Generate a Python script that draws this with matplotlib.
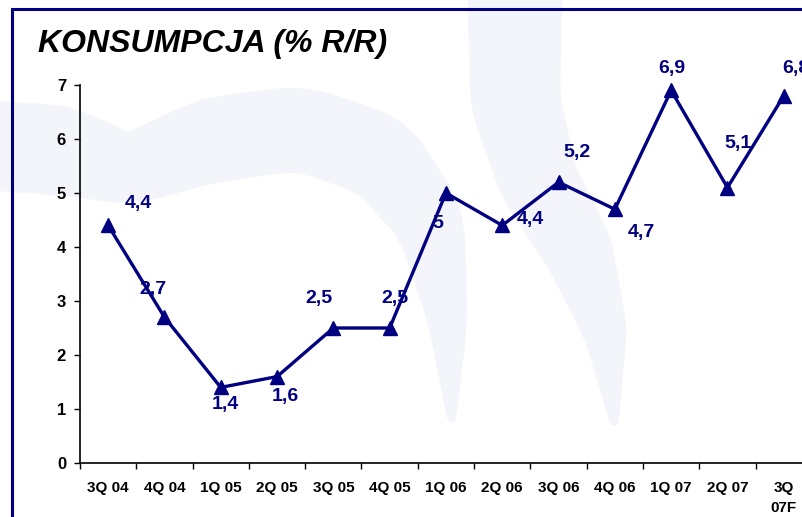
import matplotlib
matplotlib.use("Agg")
import matplotlib.pyplot as plt
import numpy as np
from matplotlib.patches import Polygon

quarters = ["3Q 04", "4Q 04", "1Q 05", "2Q 05", "3Q 05", "4Q 05", "1Q 06",
            "2Q 06", "3Q 06", "4Q 06", "1Q 07", "2Q 07", "3Q\n07F"]
values = [4.4, 2.7, 1.4, 1.6, 2.5, 2.5, 5.0, 4.4, 5.2, 4.7, 6.9, 5.1, 6.8]
value_labels = ["4,4", "2,7", "1,4", "1,6", "2,5", "2,5", "5", "4,4", "5,2",
                "4,7", "6,9", "5,1", "6,8"]
# label offsets in pixels (dx, dy up)
label_offsets = [(30, 22), (-12, 28), (5, -17), (8, -20), (-14, 29), (5, 29),
                 (-8, -30), (28, 6), (18, 30), (27, -23), (1, 22), (11, 44),
                 (12, 27)]

W, H = 803, 517
DPI = 100
plt.rcParams['font.family'] = ['Liberation Sans', 'DejaVu Sans']
fig = plt.figure(figsize=(W / DPI, H / DPI), dpi=DPI)
fig.patch.set_facecolor("white")

# background watermark + frame (pixel coords)
bg = fig.add_axes([0, 0, 1, 1], zorder=0)
bg.set_xlim(0, W)
bg.set_ylim(H, 0)
bg.axis("off")


def band(points, widths, color):
    pts = np.array(points, float)
    w = np.array(widths, float)
    t = np.linspace(0, len(pts) - 1, 200)
    px = np.interp(t, np.arange(len(pts)), pts[:, 0])
    py = np.interp(t, np.arange(len(pts)), pts[:, 1])
    ww = np.interp(t, np.arange(len(pts)), w)
    k = np.ones(15) / 15
    px = np.convolve(np.pad(px, 7, mode="edge"), k, mode="valid")
    py = np.convolve(np.pad(py, 7, mode="edge"), k, mode="valid")
    dx = np.gradient(px)
    dy = np.gradient(py)
    n = np.hypot(dx, dy)
    nx, ny = -dy / n, dx / n
    a = np.column_stack([px + nx * ww / 2, py + ny * ww / 2])
    b = np.column_stack([px - nx * ww / 2, py - ny * ww / 2])
    bg.add_patch(Polygon(np.vstack([a, b[::-1]]), closed=True,
                         facecolor=color, edgecolor="none"))


wm = "#f4f5fa"
band([(-20, 145), (60, 150), (130, 170), (210, 140), (300, 128), (380, 155),
      (430, 220), (448, 320), (452, 430)],
     [90, 90, 70, 85, 85, 85, 70, 40, 6], wm)
band([(515, -10), (515, 100), (538, 180), (578, 250), (605, 330), (615, 430)],
     [95, 90, 80, 70, 45, 6], wm)

bg.plot([12, 12, W + 5], [H + 5, 9, 9], color="#000080", lw=2.2,
        solid_joinstyle="miter")
bg.text(38, 52, "KONSUMPCJA (% R/R)", fontsize=23, fontweight="bold",
        fontstyle="italic", color="black", ha="left", va="baseline")

# main axes
left_px, right_px = 80, 80 + 13 * 56.3
top_px, bot_px = 85, 463
ax = fig.add_axes([left_px / W, (H - bot_px) / H, (right_px - left_px) / W,
                   (bot_px - top_px) / H], zorder=1)
ax.patch.set_alpha(0)

x = np.arange(len(values))
ax.plot(x, values, color="#000080", lw=2.4, marker="^", markersize=10,
        markerfacecolor="#000080", markeredgecolor="#000080", clip_on=False,
        zorder=3)

for xi, v, lab, (dx, dy) in zip(x, values, value_labels, label_offsets):
    ax.annotate(lab, (xi, v), xytext=(dx * 0.72, dy * 0.72),
                textcoords="offset points", ha="center", va="center",
                fontsize=14, fontweight="bold", color="#000080",
                annotation_clip=False, zorder=4)

ax.set_xlim(-0.5, len(values) - 0.5)
ax.set_ylim(0, 7)
ax.set_yticks(range(0, 8))
ax.tick_params(axis="y", direction="out", length=4, width=1, pad=6,
               labelsize=12)
for t in ax.get_yticklabels():
    t.set_fontweight("bold")

ax.set_xticks(np.arange(len(values) + 1) - 0.5)
ax.set_xticklabels([])
ax.tick_params(axis="x", which="major", direction="out", length=4, width=1)
ax.set_xticks(x, minor=True)
ax.set_xticklabels(quarters, minor=True, fontsize=11, fontweight="bold",
                   linespacing=1.5)
ax.tick_params(axis="x", which="minor", length=0, pad=13)

for s in ["top", "right"]:
    ax.spines[s].set_visible(False)
ax.spines["left"].set_linewidth(1.2)
ax.spines["bottom"].set_linewidth(1.2)

fig.savefig("out.png", dpi=DPI)
